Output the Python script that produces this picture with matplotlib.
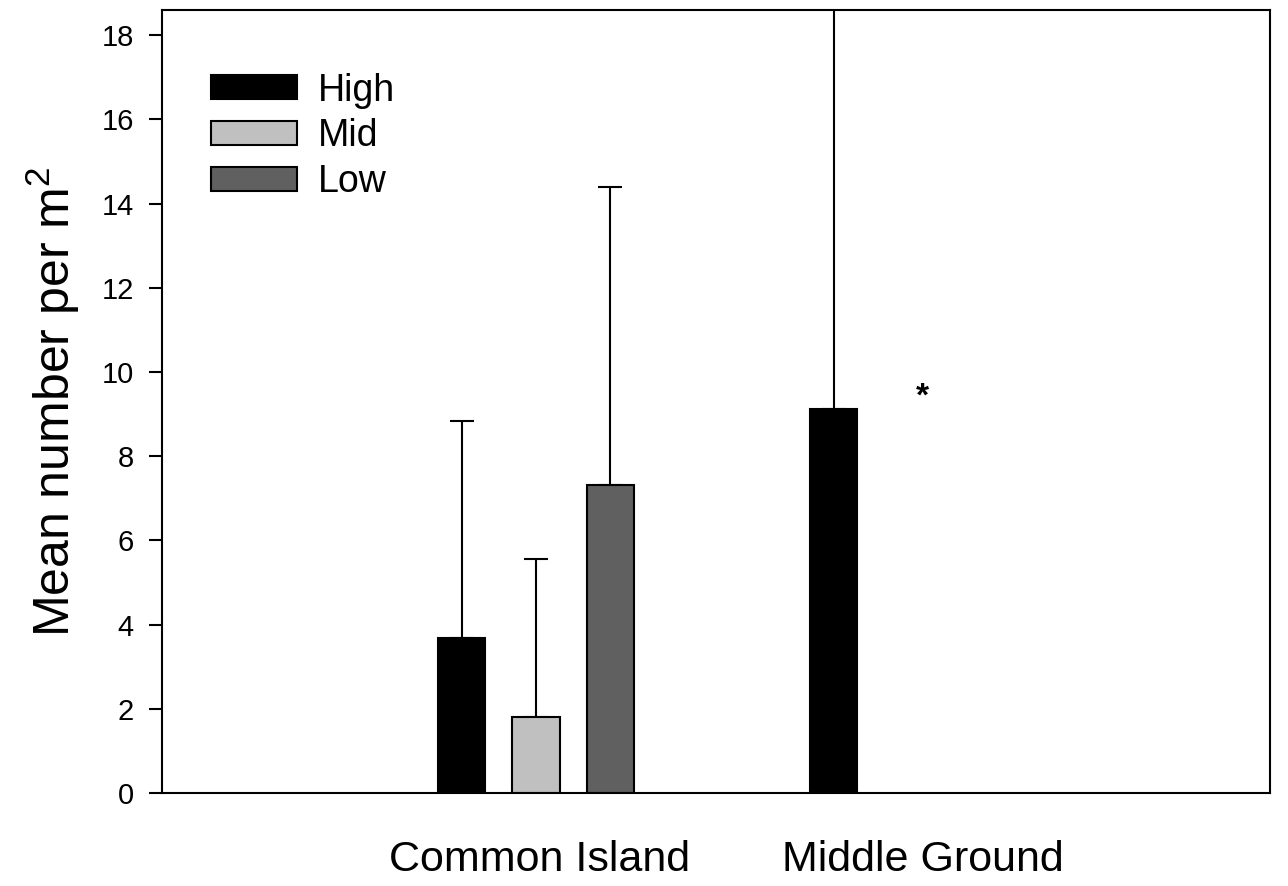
import numpy as np
import matplotlib.pyplot as plt

plt.rcParams['font.family'] = ['Liberation Sans', 'DejaVu Sans']
plt.rcParams['mathtext.fontset'] = 'custom'
plt.rcParams['mathtext.rm'] = 'Liberation Sans'
plt.rcParams['mathtext.it'] = 'Liberation Sans:italic'

# data
sites = ["Common Island", "Middle Ground"]
levels = ["High", "Mid", "Low"]
high_mean = [3.67, 9.12]
high_err = [5.16, 10.5]
mid_mean = [1.81, np.nan]
mid_err = [3.75, np.nan]
low_mean = [7.31, np.nan]
low_err = [7.08, np.nan]
colors = ["#000000", "#c0c0c0", "#606060"]

means = [high_mean, mid_mean, low_mean]
errs = [high_err, mid_err, low_err]

fig = plt.figure(figsize=(12.88, 8.86), dpi=100)
ax = fig.add_axes([0.1258, 0.105, 0.986 - 0.1258, 0.9887 - 0.105])

x = np.arange(len(sites))
width = 0.127
offsets = [-0.2, 0.0, 0.2]
for m, e, c, off, lab in zip(means, errs, colors, offsets, levels):
    m = np.array(m, dtype=float)
    e = np.array(e, dtype=float)
    ax.bar(x + off, m, width, color=c, edgecolor="black", linewidth=1.5, label=lab, zorder=2)
    ax.errorbar(x + off, m, yerr=[np.zeros_like(e), e], fmt="none", ecolor="black",
                elinewidth=1.5, capsize=8.3, capthick=1.5, zorder=1)

ax.text(1.04, 9.4, "*", fontsize=24, fontweight="bold", ha="center", va="center")

ax.set_xlim(-1.005, 1.973)
ax.set_ylim(0, 18.6)
ax.set_yticks(np.arange(0, 19, 2))
# group labels sit slightly right of the bar group centres in the original
ax.set_xticks(x + np.array([0.01, 0.04]))
ax.set_xticklabels(sites, fontsize=31)
ax.tick_params(axis="x", length=0, pad=34)
ax.tick_params(axis="y", direction="out", length=9.4, width=1.5, labelsize=21, pad=11)
ax.set_ylabel("Mean number per m$^2$", fontsize=36, labelpad=14)
for s in ax.spines.values():
    s.set_linewidth(1.5)

ax.legend(loc="upper left", bbox_to_anchor=(0.0442, 0.920), frameon=False, fontsize=27,
          borderpad=0, handlelength=2.3, handleheight=0.61, labelspacing=0.26,
          handletextpad=0.55, borderaxespad=0)

fig.savefig("out.png", dpi=100)
